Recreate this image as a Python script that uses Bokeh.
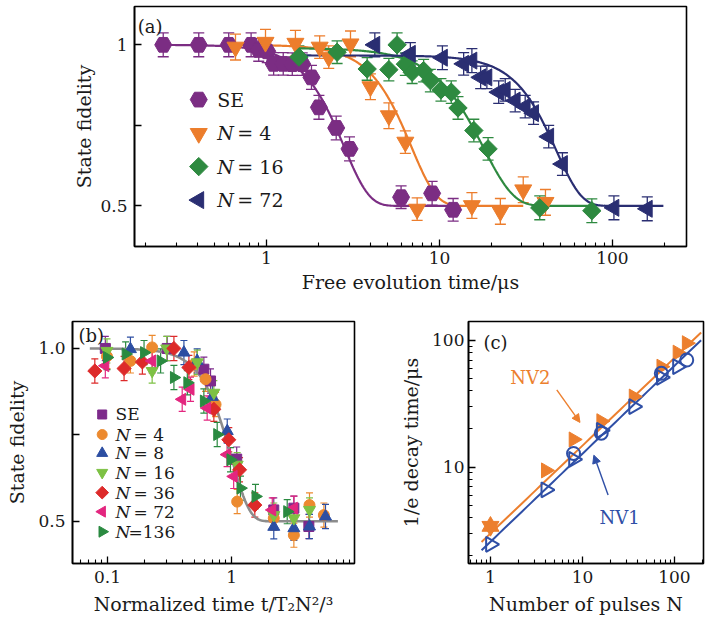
import numpy as np
from bokeh.plotting import figure
from bokeh.layouts import column, row
from bokeh.models import (ColumnDataSource, Whisker, TeeHead, FixedTicker, Range1d,
                          Label, Arrow, NormalHead, CustomJSTickFormatter)
from bokeh.core.properties import value
from bokeh.embed import file_html
from bokeh.resources import INLINE

FONT = "DejaVu Serif"
TXT = "#1a1a1a"

# ---------------- (a) fidelity vs free evolution time ----------------
se_t = [0.253, 0.406, 0.605, 0.815, 0.902, 1.01, 1.10, 1.25, 1.41, 1.61, 1.82, 2.01, 2.53, 3.02, 6.00, 9.07, 12.0]
se_f = [1.0, 1.0, 1.0, 1.0, 0.984, 0.98, 0.941, 0.941, 0.94, 0.94, 0.899, 0.806, 0.742, 0.677, 0.527, 0.539, 0.488]
se_e = [0.037, 0.037, 0.037, 0.037, 0.035, 0.035, 0.035, 0.035, 0.035, 0.035, 0.037, 0.037, 0.037, 0.037, 0.035, 0.037, 0.035]

n4_t = [0.662, 0.987, 1.47, 2.03, 2.29, 3.06, 3.99, 5.10, 6.35, 7.43, 15.4, 22.5, 30.5, 41.0]
n4_f = [0.993, 1.008, 1.005, 0.993, 0.962, 1.003, 0.870, 0.780, 0.698, 0.490, 0.501, 0.483, 0.550, 0.511]
n4_e = [0.04, 0.04, 0.04, 0.035, 0.035, 0.04, 0.04, 0.04, 0.035, 0.035, 0.04, 0.04, 0.04, 0.04]

n16_t = [1.54, 2.56, 3.82, 5.10, 5.69, 6.35, 6.95, 8.1, 8.86, 10.2, 11.7, 12.8, 15.8, 19.1, 38.0, 76.0]
n16_f = [0.962, 0.977, 0.925, 0.923, 1.0, 0.94, 0.915, 0.92, 0.889, 0.860, 0.853, 0.804, 0.734, 0.677, 0.494, 0.485]
n16_e = [0.035, 0.035, 0.035, 0.035, 0.037, 0.035, 0.035, 0.035, 0.035, 0.035, 0.035, 0.035, 0.035, 0.035, 0.037, 0.037]

n72_t = [4.23, 6.79, 10.4, 13.8, 15.4, 17.3, 18.8, 22.0, 24.0, 27.4, 31.3, 35.0, 42.8, 51.4, 102.0, 159.0]
n72_f = [1.0, 0.972, 0.96, 0.941, 0.951, 0.899, 0.899, 0.853, 0.860, 0.827, 0.808, 0.788, 0.715, 0.630, 0.494, 0.491]
n72_e = [0.037, 0.035, 0.037, 0.035, 0.037, 0.035, 0.035, 0.035, 0.035, 0.035, 0.035, 0.035, 0.035, 0.035, 0.037, 0.037]

# fit parameters: F = 0.5 + A exp(-(t/T)^n), drawn over [t0, t1]
fit_a = {
    "SE":  dict(A=0.50, T=2.81, n=3.0, t0=0.253, t1=12.0),
    "N4":  dict(A=0.50, T=6.88, n=3.0, t0=0.662, t1=30.5),
    "N16": dict(A=0.49, T=18.0, n=2.5, t0=1.54, t1=76.0),
    "N72": dict(A=0.467, T=47.4, n=3.0, t0=1.43, t1=197.0),
}

C_SE, C_N4, C_N16, C_N72 = "#7B2D83", "#EC7D2C", "#2E8A40", "#2A2E72"

# ---------------- (b) fidelity vs normalized time ----------------
b_se_t = [0.096, 0.303, 0.598, 0.677, 1.10, 2.19, 3.18, 4.20]
b_se_f = [1.0, 1.0, 0.94, 0.906, 0.68, 0.533, 0.538, 0.485]
b_n4_t = [0.099, 0.153, 0.229, 0.50, 0.617, 0.743, 1.11, 2.19, 3.18, 4.25, 5.55]
b_n4_f = [0.977, 0.964, 1.003, 0.955, 0.911, 0.838, 0.557, 0.509, 0.46, 0.547, 0.518]
b_n8_t = [0.153, 0.413, 0.528, 0.70, 0.923, 2.19, 3.18, 4.25, 5.72]
b_n8_f = [0.998, 0.988, 0.964, 0.86, 0.761, 0.484, 0.48, 0.485, 0.514]
b_n16_t = [0.099, 0.229, 0.30, 0.53, 0.72, 1.11, 2.19, 3.18, 4.25]
b_n16_f = [0.993, 0.935, 1.0, 0.96, 0.872, 0.664, 0.518, 0.509, 0.533]
b_n36_t = [0.079, 0.136, 0.191, 0.343, 0.453, 0.72, 0.95, 1.16, 1.54]
b_n36_f = [0.935, 0.942, 0.961, 1.0, 0.945, 0.824, 0.736, 0.649, 0.547]
b_n72_t = [0.096, 0.229, 0.40, 0.467, 0.636, 0.92, 1.04, 2.13, 3.18]
b_n72_f = [0.95, 0.964, 0.853, 0.882, 0.828, 0.693, 0.63, 0.533, 0.538]
b_n136_t = [0.099, 0.14, 0.197, 0.268, 0.343, 0.44, 0.598, 0.766, 0.98, 1.18, 1.56, 2.81]
b_n136_f = [0.974, 0.984, 0.988, 0.964, 0.916, 0.901, 0.848, 0.751, 0.678, 0.596, 0.572, 0.528]
fit_b = dict(A=0.5, T=1.0, n=3.0, t0=0.072, t1=7.2)

# ---------------- (c) decay time vs number of pulses ----------------
nv2_n = [1, 4, 8, 16, 36, 72, 108, 136]
nv2_tau = [3.4, 9.4, 16.5, 23.0, 36.0, 62.0, 80.0, 95.0]
nv1_tri_n = [1, 4, 8, 16, 36, 72, 108]
nv1_tri_tau = [2.45, 6.6, 11.5, 19.5, 30.0, 51.0, 62.0]
nv1_circ_n = [8, 16, 72, 136]
nv1_circ_tau = [12.8, 18.5, 55.0, 70.0]
fit_nv2 = dict(a=2.99, k=0.693)
fit_nv1 = dict(a=2.57, k=0.695)
C_NV2, C_NV1 = "#EC7F2E", "#2F4FA6"


def decades(lo, hi):
    return [m * 10.0 ** e for e in range(lo, hi) for m in range(2, 10)]


def tick_labels(tick_vals, tick_text):
    return CustomJSTickFormatter(args=dict(tv=tick_vals, tt=tick_text), code="""
        for (let i = 0; i < tv.length; i++) {
            if (Math.abs(tv[i] - tick) <= 1e-6 * Math.abs(tick)) return tt[i];
        }
        return "";
    """)


def frame_style(p):
    p.outline_line_color = "black"
    p.outline_line_width = 1.6
    p.outline_line_alpha = 1.0
    p.xgrid.visible = False
    p.ygrid.visible = False
    for ax in list(p.xaxis) + list(p.yaxis):
        ax.axis_line_width = 1.6
        ax.axis_line_color = "black"
        ax.major_tick_in = 7
        ax.major_tick_out = 0
        ax.minor_tick_in = 4
        ax.minor_tick_out = 0
        ax.major_tick_line_width = 1.3
        ax.minor_tick_line_width = 1.1
        ax.major_label_text_font = FONT
        ax.major_label_text_font_size = "17px"
        ax.major_label_text_color = TXT
        ax.major_label_standoff = 7
        ax.axis_label_text_font = FONT
        ax.axis_label_text_font_size = "19px"
        ax.axis_label_text_font_style = "normal"
        ax.axis_label_text_color = TXT
        ax.axis_label_standoff = 7


def errbars(p, x, y, e, color, cap, width=1.3):
    src = ColumnDataSource(dict(x=x, lo=[a - b for a, b in zip(y, e)], hi=[a + b for a, b in zip(y, e)]))
    p.add_layout(Whisker(source=src, base="x", lower="lo", upper="hi", dimension="height",
                         line_color=color, line_width=width,
                         lower_head=TeeHead(size=cap, line_color=color, line_width=width),
                         upper_head=TeeHead(size=cap, line_color=color, line_width=width)))


def fit_curve(prm):
    t = np.geomspace(prm["t0"], prm["t1"], 300)
    return t, 0.5 + prm["A"] * np.exp(-(t / prm["T"]) ** prm["n"])


# ======================= panel (a) =======================
pa = figure(width=710, height=305, x_axis_type="log",
            x_range=Range1d(0.1726, 268), y_range=Range1d(0.374, 1.119),
            output_backend="svg", toolbar_location=None,
            min_border_left=134, min_border_right=24, min_border_top=6, min_border_bottom=59)
frame_style(pa)
pa.xaxis.ticker = FixedTicker(ticks=[1, 10, 100], minor_ticks=decades(-1, 3))
pa.xaxis.formatter = tick_labels([1, 10, 100], ["1", "10", "100"])
pa.yaxis.ticker = FixedTicker(ticks=[0.5, 0.75, 1.0], minor_ticks=[])
pa.yaxis.formatter = tick_labels([0.5, 1.0], ["0.5", "1"])
pa.xaxis.axis_label = "Free evolution time/μs"
pa.yaxis.axis_label = "State fidelity"
pa.xaxis.major_label_standoff = 5
pa.xaxis.axis_label_standoff = 4
pa.yaxis.axis_label_standoff = 2

# diamonds are squares turned by 45 degrees
series_a = [
    (se_t, se_f, se_e, C_SE, "hex", 17, 0, "SE"),
    (n4_t, n4_f, n4_e, C_N4, "inverted_triangle", 17, 0, "N4"),
    (n16_t, n16_f, n16_e, C_N16, "square", 13, np.pi / 4, "N16"),
    (n72_t, n72_f, n72_e, C_N72, "triangle", 17, np.pi / 2, "N72"),
]
for t, f, e, c, m, s, ang, key in series_a:
    errbars(pa, t, f, e, c, 11)
for t, f, e, c, m, s, ang, key in series_a:
    ft, ff = fit_curve(fit_a[key])
    pa.line(ft, ff, line_color=c, line_width=2.2)
for t, f, e, c, m, s, ang, key in series_a:
    pa.scatter(t, f, marker=m, size=s, angle=ang, fill_color=c, line_color=c)

# legend of (a)
leg_a_x, leg_a_tx = 0.406, 0.52
leg_a_y = [0.830, 0.725, 0.622, 0.518]
leg_a_val = ["", "= 4", "= 16", "= 72"]
for (t, f, e, c, m, s, ang, key), yy, txt in zip(series_a, leg_a_y, leg_a_val):
    pa.scatter([leg_a_x], [yy], marker=m, size=s, angle=ang, fill_color=c, line_color=c)
    if txt:
        pa.text([leg_a_tx], [yy], text=["N"], text_font=value(FONT), text_font_size=value("19px"),
                text_font_style="italic", text_baseline="middle", text_color=TXT)
        pa.text([leg_a_tx], [yy], text=[txt], x_offset=20, text_font=value(FONT),
                text_font_size=value("19px"), text_baseline="middle", text_color=TXT)
    else:
        pa.text([leg_a_tx], [yy], text=["SE"], text_font=value(FONT), text_font_size=value("19px"),
                text_baseline="middle", text_color=TXT)
pa.add_layout(Label(x=0.18, y=1.091, text="(a)", text_font=FONT, text_font_size="18px",
                    text_baseline="top", text_align="left", text_color=TXT))

# ======================= panel (b) =======================
pb = figure(width=390, height=321, x_axis_type="log",
            x_range=Range1d(0.0522, 9.8), y_range=Range1d(0.378, 1.078),
            output_backend="svg", toolbar_location=None,
            min_border_left=72, min_border_right=36, min_border_top=16, min_border_bottom=63)
frame_style(pb)
pb.xaxis.ticker = FixedTicker(ticks=[0.1, 1, 10], minor_ticks=decades(-2, 1))
pb.xaxis.formatter = tick_labels([0.1, 1, 10], ["0.1", "1", "10"])
pb.yaxis.ticker = FixedTicker(ticks=[0.5, 0.75, 1.0], minor_ticks=[])
pb.yaxis.formatter = tick_labels([0.5, 1.0], ["0.5", "1.0"])
pb.xaxis.axis_label = "Normalized time t/T₂N²/³"
pb.yaxis.axis_label = "State fidelity"

series_b = [
    (b_se_t, b_se_f, "#7D2A8B", "square", 10, 0, "SE"),
    (b_n4_t, b_n4_f, "#EC8A2F", "circle", 11, 0, "= 4"),
    (b_n8_t, b_n8_f, "#2C4EA2", "triangle", 12, 0, "= 8"),
    (b_n16_t, b_n16_f, "#7DC144", "inverted_triangle", 12, 0, "= 16"),
    (b_n36_t, b_n36_f, "#DD2A2A", "square", 10, np.pi / 4, "= 36"),
    (b_n72_t, b_n72_f, "#E3267F", "triangle", 12, np.pi / 2, "= 72"),
    (b_n136_t, b_n136_f, "#2A8A40", "triangle", 12, -np.pi / 2, "=136"),
]
for t, f, c, m, s, ang, lab in series_b:
    errbars(pb, t, f, [0.035] * len(t), c, 7, 1.2)
gt, gf = fit_curve(fit_b)
pb.line(gt, gf, line_color="#8C8C8C", line_width=2.6)
for t, f, c, m, s, ang, lab in series_b:
    pb.scatter(t, f, marker=m, size=s, angle=ang, fill_color=c, line_color=c)

leg_b_x, leg_b_tx = 0.0906, 0.116
leg_b_y = [0.809, 0.751, 0.697, 0.641, 0.583, 0.528, 0.470]
for (t, f, c, m, s, ang, lab), yy in zip(series_b, leg_b_y):
    pb.scatter([leg_b_x], [yy], marker=m, size=s - 1, angle=ang, fill_color=c, line_color=c)
    if lab == "SE":
        pb.text([leg_b_tx], [yy], text=["SE"], text_font=value(FONT), text_font_size=value("17px"),
                text_baseline="middle", text_color=TXT)
    else:
        pb.text([leg_b_tx], [yy], text=["N"], text_font=value(FONT), text_font_size=value("17px"),
                text_font_style="italic", text_baseline="middle", text_color=TXT)
        pb.text([leg_b_tx], [yy], text=[lab], x_offset=18 if lab[1] == " " else 13,
                text_font=value(FONT), text_font_size=value("17px"),
                text_baseline="middle", text_color=TXT)
pb.add_layout(Label(x=0.0584, y=1.068, text="(b)", text_font=FONT, text_font_size="18px",
                    text_baseline="top", text_align="left", text_color=TXT))

# ======================= panel (c) =======================
pc = figure(width=320, height=321, x_axis_type="log", y_axis_type="log",
            x_range=Range1d(0.577, 207), y_range=Range1d(1.73, 141),
            output_backend="svg", toolbar_location=None,
            min_border_left=78, min_border_right=7, min_border_top=16, min_border_bottom=63)
frame_style(pc)
pc.xaxis.ticker = FixedTicker(ticks=[1, 10, 100], minor_ticks=decades(-1, 3))
pc.xaxis.formatter = tick_labels([1, 10, 100], ["1", "10", "100"])
pc.yaxis.ticker = FixedTicker(ticks=[10, 100], minor_ticks=decades(0, 2))
pc.yaxis.formatter = tick_labels([10, 100], ["10", "100"])
pc.yaxis.major_label_standoff = 4
pc.xaxis.axis_label = "Number of pulses N"
pc.yaxis.axis_label = "1/e decay time/μs"

for prm, c in ((fit_nv2, C_NV2), (fit_nv1, C_NV1)):
    nn = np.geomspace(0.8, 195, 50)
    pc.line(nn, prm["a"] * nn ** prm["k"], line_color=c, line_width=2)

# six-pointed star for the single-echo point of NV2
pc.scatter(nv2_n[:1], nv2_tau[:1], marker="triangle", size=17, fill_color=C_NV2, line_color=C_NV2)
pc.scatter(nv2_n[:1], nv2_tau[:1], marker="inverted_triangle", size=17, fill_color=C_NV2, line_color=C_NV2)
pc.scatter(nv2_n[1:], nv2_tau[1:], marker="triangle", size=15, angle=-np.pi / 2,
           fill_color=C_NV2, line_color=C_NV2)
pc.scatter(nv1_tri_n, nv1_tri_tau, marker="triangle", size=15, angle=-np.pi / 2,
           fill_color=None, line_color=C_NV1, line_width=2)
pc.scatter(nv1_circ_n, nv1_circ_tau, marker="circle", size=13,
           fill_color=None, line_color=C_NV1, line_width=2)

pc.add_layout(Label(x=2.71, y=51, text="NV2", text_font=FONT, text_font_size="18px",
                    text_color=C_NV2, text_align="center", text_baseline="middle"))
pc.add_layout(Label(x=25.4, y=3.96, text="NV1", text_font=FONT, text_font_size="18px",
                    text_color=C_NV1, text_align="center", text_baseline="middle"))
pc.add_layout(Arrow(x_start=5.26, y_start=40.6, x_end=9.4, y_end=22.5, line_color=C_NV2, line_width=1.4,
                    end=NormalHead(size=8, fill_color=C_NV2, line_color=C_NV2)))
pc.add_layout(Arrow(x_start=19.0, y_start=6.0, x_end=13.3, y_end=12.4, line_color=C_NV1, line_width=1.4,
                    end=NormalHead(size=8, fill_color=C_NV1, line_color=C_NV1)))
pc.add_layout(Label(x=0.84, y=116, text="(c)", text_font=FONT, text_font_size="18px",
                    text_baseline="top", text_align="left", text_color=TXT))

layout = column(pa, row(pb, pc))
open("out.html", "w").write(file_html(layout, INLINE))
